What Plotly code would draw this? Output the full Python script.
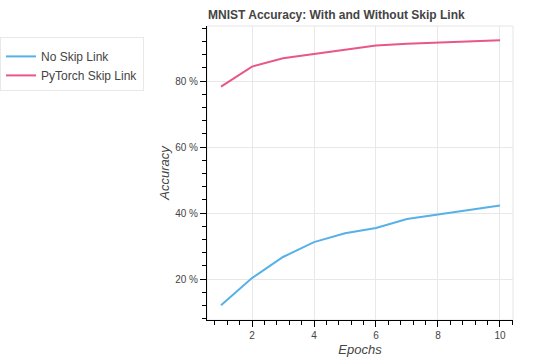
import plotly.graph_objects as go

epochs = [1, 2, 3, 4, 5, 6, 7, 8, 9, 10]
no_skip = [12.1, 20.3, 26.7, 31.2, 33.9, 35.5, 38.2, 39.5, 40.8, 42.3]
skip = [78.3, 84.4, 86.9, 88.2, 89.5, 90.8, 91.3, 91.6, 92.0, 92.4]
series_names = ["No Skip Link", "PyTorch Skip Link"]
colors = ["#56B1E8", "#E8568A"]

W, H = 539, 359
L, R, T, B = 207, 26, 26, 39
font = "Liberation Sans, Arial, sans-serif"

fig = go.Figure()
for name, vals, c in zip(series_names, [no_skip, skip], colors):
    fig.add_trace(go.Scatter(x=epochs, y=vals, mode="lines", name=name,
                             line=dict(color=c, width=2)))

fig.update_layout(
    width=W, height=H,
    margin=dict(l=L, r=R, t=T, b=B, pad=0, autoexpand=False),
    paper_bgcolor="white", plot_bgcolor="white",
    font=dict(family=font, size=10, color="#444444"),
    title=dict(text="<b>MNIST Accuracy: With and Without Skip Link</b>",
               x=208 / W, xanchor="left", xref="container",
               y=1 - 15 / H, yanchor="middle", yref="container",
               font=dict(size=12, color="#444444")),
    showlegend=True,
    legend=dict(xref="container", yref="container", x=0, y=1 - 37 / H,
                xanchor="left", yanchor="top",
                bgcolor="white", bordercolor="#e8e8e8", borderwidth=1,
                font=dict(size=12, color="#444444"),
                title=dict(text=" ", font=dict(size=3)),
                tracegroupgap=0, itemwidth=30),
    shapes=[dict(type="rect", xref="paper", yref="paper", x0=0, y0=0, x1=1, y1=1,
                 line=dict(color="#e5e5e5", width=1), layer="below")],
)
fig.update_xaxes(
    range=[0.548, 10.42], tick0=0, dtick=2, automargin=False,
    showline=True, linecolor="black", linewidth=1,
    ticks="outside", ticklen=6, tickcolor="black", tickwidth=1,
    showgrid=True, gridcolor="#e8e8e8", gridwidth=1, zeroline=False,
    minor=dict(dtick=0.4, tick0=0, ticks="outside", ticklen=4, tickcolor="black", showgrid=False),
    tickfont=dict(size=10, color="#444444"),
    title=dict(text="<i>Epochs</i>", font=dict(size=13, color="#444444"), standoff=4),
)
fig.update_yaxes(
    range=[7.6, 96.7], tick0=0, dtick=20, ticksuffix=" %", automargin=False,
    showline=True, linecolor="black", linewidth=1,
    ticks="outside", ticklen=6, tickcolor="black", tickwidth=1,
    showgrid=True, gridcolor="#e8e8e8", gridwidth=1, zeroline=False,
    minor=dict(dtick=4, tick0=0, ticks="outside", ticklen=4, tickcolor="black", showgrid=False),
    tickfont=dict(size=10, color="#444444"),
    title=dict(text="<i>Accuracy</i>", font=dict(size=13, color="#444444"), standoff=2),
)

fig.write_html("out.html", config={"displayModeBar": False},
               post_script="document.body.style.margin='0';")
